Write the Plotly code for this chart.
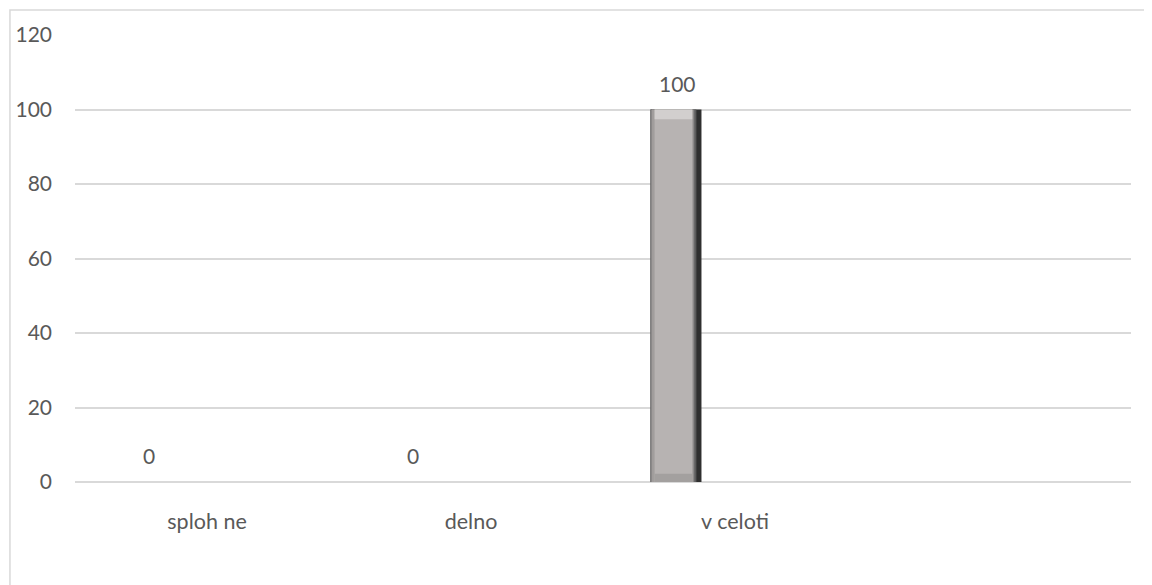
import plotly.graph_objects as go

categories = ["sploh ne", "delno", "v celoti", " "]
values = [0, 0, 100, None]
value_labels = ["0", "0", "100", ""]
y_ticks = [0, 20, 40, 60, 80, 100, 120]

FONT = "Lato"
TXT = "#595959"
GRID = "#d9d9d9"
BAR_W = 0.193
BAR_OFF = -0.32

fig = go.Figure()

# vertical shading layers (left fraction, width fraction, colour)
layers = [
    (0.00, 1.00, "#2f2f2f"),
    (0.00, 0.90, "#5c5c5c"),
    (0.00, 0.86, "#8a8888"),
    (0.03, 0.80, "#a19e9d"),
    (0.08, 0.74, "#b7b3b2"),
]
for lf, wf, col in layers:
    fig.add_trace(go.Bar(
        x=categories, y=values, width=BAR_W * wf, offset=BAR_OFF + BAR_W * lf,
        marker=dict(color=col, line=dict(width=0)), hoverinfo="skip",
    ))

# top highlight and bottom shadow bevels of each non-zero bar
top_h = [2.6 if v else None for v in values]
top_base = [v - 2.6 if v else None for v in values]
fig.add_trace(go.Bar(
    x=categories, y=top_h, base=top_base, width=BAR_W * 0.74, offset=BAR_OFF + BAR_W * 0.08,
    marker=dict(color="#d2cfce", line=dict(width=0)), hoverinfo="skip",
))
bot_h = [2.2 if v else None for v in values]
fig.add_trace(go.Bar(
    x=categories, y=bot_h, width=BAR_W * 0.74, offset=BAR_OFF + BAR_W * 0.08,
    marker=dict(color="#a3a09f", line=dict(width=0)), hoverinfo="skip",
))

annotations = []
for c, v, t in zip(categories, values, value_labels):
    if v is None:
        continue
    annotations.append(dict(
        x=c, y=v, xref="x", yref="y", text=t, showarrow=False,
        xanchor="center", yanchor="bottom", xshift=-58, yshift=12,
        font=dict(family=FONT, size=21, color=TXT),
    ))

fig.update_layout(
    width=1144, height=577,
    margin=dict(l=67, r=21, t=27, b=103, autoexpand=False),
    paper_bgcolor="white", plot_bgcolor="white",
    showlegend=False, barmode="overlay",
    annotations=annotations,
    xaxis=dict(
        type="category", automargin=False,
        categoryorder="array", categoryarray=categories,
        showgrid=False, zeroline=False, showline=False,
        ticks="", ticklabelstandoff=24,
        tickfont=dict(family=FONT, size=21.5, color=TXT),
    ),
    yaxis=dict(
        range=[0, 120], tickvals=y_ticks, automargin=False,
        showgrid=True, gridcolor=GRID, gridwidth=1.5,
        zeroline=True, zerolinecolor=GRID, zerolinewidth=1.5,
        showline=False, ticks="", ticklabelstandoff=22,
        tickfont=dict(family=FONT, size=21, color=TXT),
    ),
    shapes=[dict(
        type="rect", xref="paper", yref="paper",
        x0=-0.0616, x1=1.2, y0=-0.5, y1=1.056,
        line=dict(color="#d9d9d9", width=1.5), fillcolor="rgba(0,0,0,0)",
        layer="below",
    )],
)

fig.write_html("out.html")
